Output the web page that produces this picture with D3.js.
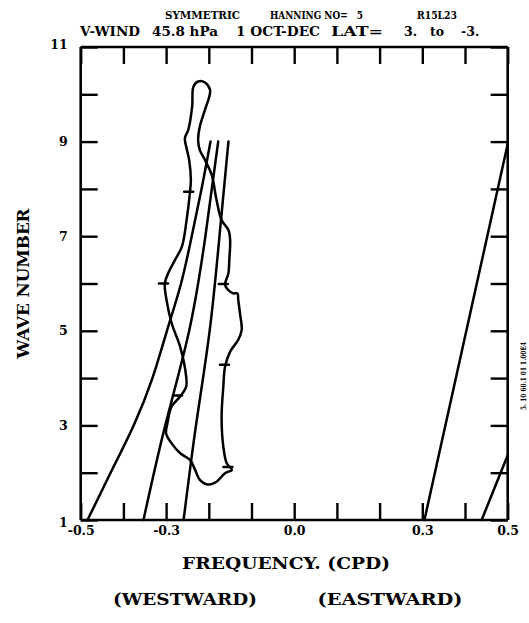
<!DOCTYPE html>
<html><head><meta charset="utf-8">
<script src="https://cdn.jsdelivr.net/npm/d3@7"></script>
<style>
body{margin:0;background:#fff;}
svg{display:block;}
</style></head><body>
<svg id="c" width="529" height="623"></svg>
<script>
// ---------- data ----------
const xTicks = [-0.5,-0.4,-0.3,-0.2,-0.1,0,0.1,0.2,0.3,0.4,0.5];
const xTickLabels = {"-0.5":"-0.5","-0.3":"-0.3","0":"0.0","0.3":"0.3","0.5":"0.5"};
const yTicks = [1,2,3,4,5,6,7,8,9,10,11];
const yTickLabels = [1,3,5,7,9,11];

// dispersion curves: [frequency, wavenumber]
const curveW1 = [[-0.484,1],[-0.43,2],[-0.376,3],[-0.332,4],[-0.298,5],[-0.265,6],[-0.24,7],[-0.217,8],[-0.196,9]];
const curveW2 = [[-0.353,1],[-0.302,3],[-0.246,5],[-0.208,7],[-0.178,9]];
const curveW3 = [[-0.259,1],[-0.23,3],[-0.198,5],[-0.175,7],[-0.154,9]];
const curveE1 = [[0.305,1],[0.5,8.95]];
const curveE2 = [[0.439,1],[0.5,2.37]];

// spectral contour (closed)
const contour = [
[-0.225,10.27],[-0.236,10.16],[-0.239,9.74],[-0.248,9.25],[-0.256,9.07],[-0.252,8.86],[-0.246,8.61],
[-0.242,8.19],[-0.244,7.94],[-0.252,7.34],[-0.263,6.78],[-0.279,6.50],[-0.295,6.22],[-0.303,6.00],
[-0.299,5.65],[-0.287,5.16],[-0.267,4.66],[-0.253,4.03],[-0.253,3.82],[-0.267,3.61],[-0.287,3.40],
[-0.297,3.04],[-0.300,2.83],[-0.287,2.62],[-0.267,2.41],[-0.244,2.27],[-0.232,2.06],[-0.221,1.85],
[-0.201,1.75],[-0.182,1.81],[-0.162,1.99],[-0.146,2.06],[-0.158,2.20],[-0.166,2.55],[-0.170,3.18],
[-0.166,3.82],[-0.162,4.24],[-0.150,4.56],[-0.131,4.81],[-0.123,5.02],[-0.127,5.37],[-0.131,5.65],
[-0.133,5.79],[-0.143,5.79],[-0.154,5.86],[-0.162,5.97],[-0.154,6.22],[-0.152,6.50],[-0.150,6.92],
[-0.154,7.13],[-0.170,7.34],[-0.182,7.77],[-0.193,8.29],[-0.209,8.61],[-0.221,8.82],[-0.225,9.03],
[-0.221,9.32],[-0.209,9.67],[-0.199,9.95],[-0.197,10.09],[-0.209,10.25]
];
// contour label marks
const labelMarks = [[-0.246,7.94],[-0.305,6.0],[-0.165,5.99],[-0.162,4.28],[-0.272,3.63],[-0.154,2.12]];

// header texts: [text, left x, target width (0 = natural)]
const header1 = [["SYMMETRIC",165,75],["HANNING NO=\u00a0\u00a0\u00a05",270,93],["R15L23",417,40]];
const header2 = [["V-WIND",80,60],["45.8 hPa",152,66],["1 OCT-DEC",236,84],["LAT=",331,52],["3.",404,0],["to",430,0],["-3.",461,0]];
const sideNote = "5. 10 60.1 01 1.00E4";

// ---------- drawing ----------
const svg = d3.select("#c");
const L=80.7, R=507.7, T=47, B=520;
const x = d3.scaleLinear().domain([-0.5,0.5]).range([L,R]);
const y = d3.scaleLinear().domain([1,11]).range([B,T]);
const TK = 17;
const serif = "'DejaVu Serif', 'Liberation Serif', serif";

const axB = d3.axisBottom(x).tickValues(xTicks).tickSize(-TK).tickPadding(6)
  .tickFormat(d => xTickLabels[String(+d.toFixed(1))] || "");
const axT = d3.axisTop(x).tickValues(xTicks).tickSize(-TK).tickFormat("");
const axL = d3.axisLeft(y).tickValues(yTicks).tickSize(-TK).tickPadding(13)
  .tickFormat(d => yTickLabels.includes(d) ? String(d) : "");
const axR = d3.axisRight(y).tickValues(yTicks).tickSize(-TK).tickFormat("");

function style(g){
  g.select(".domain").attr("stroke","#000").attr("stroke-width",2.6);
  g.selectAll(".tick line").attr("stroke","#000").attr("stroke-width",2.4);
  g.selectAll(".tick text").attr("fill","#000").attr("font-family",serif)
   .attr("font-weight","bold").attr("font-size",12.5);
}
svg.append("g").attr("transform",`translate(0,${B})`).call(axB).call(style)
  .call(g=>g.select(".domain").attr("d",`M${L},0H${R}`));
svg.append("g").attr("transform",`translate(0,${T})`).call(axT).call(style)
  .call(g=>g.select(".domain").attr("d",`M${L},0H${R}`));
svg.append("g").attr("transform",`translate(${L},0)`).call(axL).call(style)
  .call(g=>g.select(".domain").attr("d",`M0,${B}V${T}`))
  .call(g=>g.selectAll(".tick text").attr("dy", d=> d===1 ? "0.55em" : d===11 ? "0.1em" : "0.32em"));
svg.append("g").attr("transform",`translate(${R},0)`).call(axR).call(style)
  .call(g=>g.select(".domain").attr("d",`M0,${B}V${T}`));

const line = d3.line().x(d=>x(d[0])).y(d=>y(d[1]));
const plot = svg.append("g").attr("fill","none").attr("stroke","#000")
  .attr("stroke-width",2.5).attr("stroke-linecap","round").attr("stroke-linejoin","round");
[curveW1,curveW2,curveW3].forEach(c=>{
  plot.append("path").attr("d", line.curve(d3.curveNatural)(c));
});
[curveE1,curveE2].forEach(c=>{
  plot.append("path").attr("d", line.curve(d3.curveLinear)(c));
});
plot.append("path").attr("d", line.curve(d3.curveCatmullRomClosed.alpha(0.5))(contour));
labelMarks.forEach(m=>{
  plot.append("line").attr("x1",x(m[0])-5).attr("x2",x(m[0])+4)
    .attr("y1",y(m[1])).attr("y2",y(m[1]));
});

// headers
const hdr = svg.append("g").attr("font-family",serif).attr("font-weight","bold").attr("fill","#000");
function putHeader(list, yy, fs){
  list.forEach(h=>{
    const t = hdr.append("text").attr("x",h[1]).attr("y",yy).attr("font-size",fs).text(h[0]);
    if (h[2]) t.attr("textLength",h[2]).attr("lengthAdjust","spacingAndGlyphs");
  });
}
putHeader(header1, 19, 10.5);
putHeader(header2, 36, 12.5);

// axis titles
const tf = {family: serif, size: 16.5, weight: "bold"};
svg.append("text").attr("transform",`translate(29,${(T+B)/2}) rotate(-90)`)
  .attr("text-anchor","middle").attr("font-family",tf.family).attr("font-size",tf.size).attr("font-weight",tf.weight)
  .attr("textLength",150).attr("lengthAdjust","spacingAndGlyphs").text("WAVE NUMBER");
svg.append("text").attr("x",286).attr("y",569).attr("text-anchor","middle")
  .attr("font-family",tf.family).attr("font-size",tf.size).attr("font-weight",tf.weight)
  .attr("textLength",208).attr("lengthAdjust","spacingAndGlyphs").text("FREQUENCY. (CPD)");
svg.append("text").attr("x",185).attr("y",605).attr("text-anchor","middle")
  .attr("font-family",tf.family).attr("font-size",tf.size).attr("font-weight",tf.weight)
  .attr("textLength",144).attr("lengthAdjust","spacingAndGlyphs").text("(WESTWARD)");
svg.append("text").attr("x",390).attr("y",605).attr("text-anchor","middle")
  .attr("font-family",tf.family).attr("font-size",tf.size).attr("font-weight",tf.weight)
  .attr("textLength",145).attr("lengthAdjust","spacingAndGlyphs").text("(EASTWARD)");
svg.append("text").attr("transform",`translate(526,410) rotate(-90)`)
  .attr("font-family",serif).attr("font-weight","bold").attr("font-size",7.5)
  .attr("textLength",68).attr("lengthAdjust","spacingAndGlyphs").text(sideNote);
</script></body></html>
